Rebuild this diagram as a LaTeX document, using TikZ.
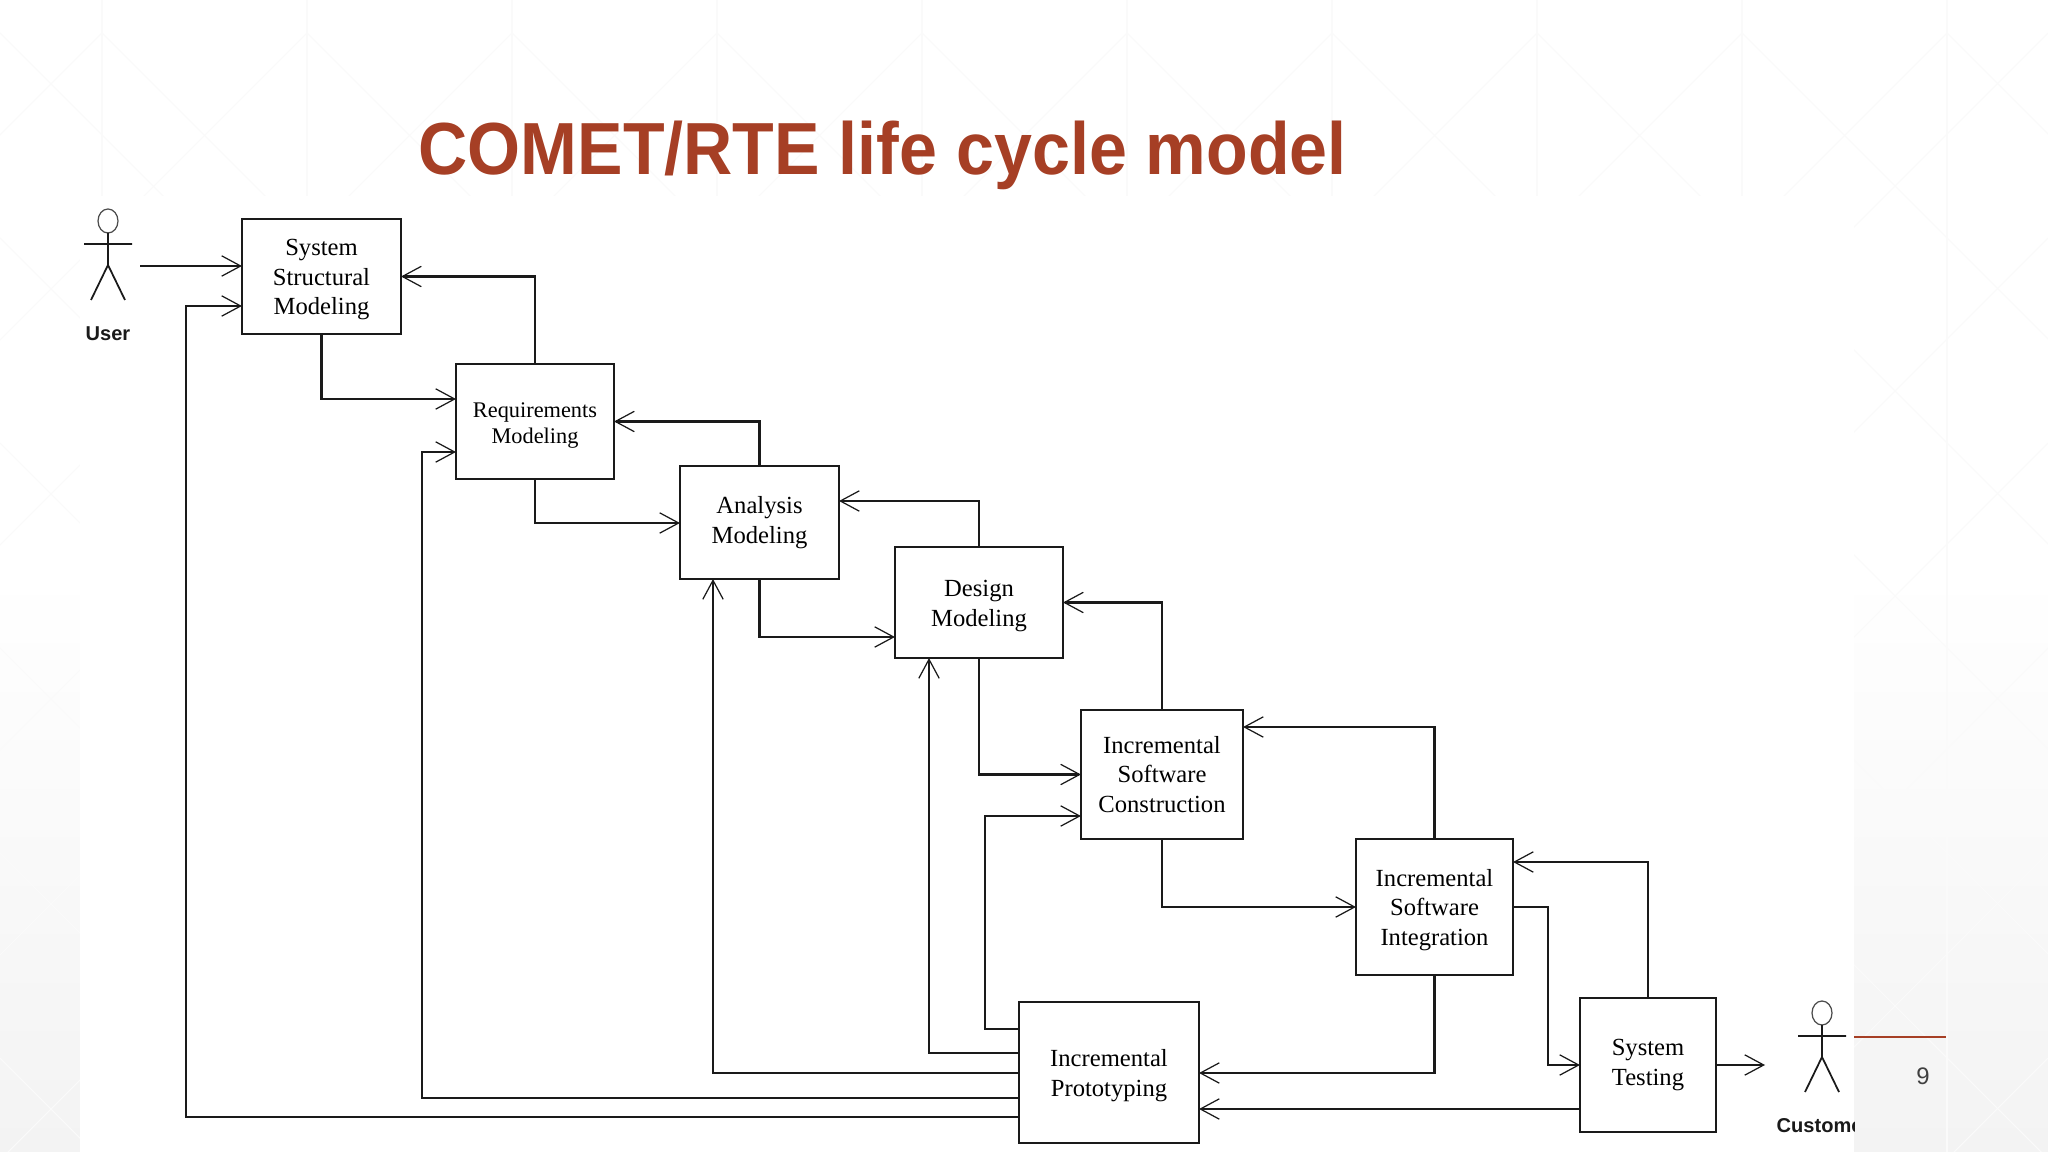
\documentclass[tikz,border=0pt]{standalone}
\usepackage{fontspec}
\setmainfont{Liberation Serif}
\newfontfamily\labelfont{Liberation Sans}
\usetikzlibrary{arrows.meta}
\definecolor{titlered}{HTML}{A63F25}
\definecolor{slidegrey}{HTML}{F3F3F3}
\definecolor{latticegrey}{HTML}{FAFAFA}
\definecolor{inkblack}{HTML}{1A1A1A}
\newcommand{\dropline}{\rule{0pt}{6.6pt}}
\tikzset{
  stage/.style={draw=inkblack,line width=0.62pt,fill=white,inner sep=0pt,outer sep=0pt,
    align=center,font=\fontsize{7}{8.4}\selectfont},
  flow/.style={->,draw=inkblack,line width=0.62pt},
  actorname/.style={font=\fontsize{5.7}{6.8}\labelfont\bfseries,text=inkblack,inner sep=0pt},
  actor/.pic={
    \draw[line width=0.35pt,draw=black!70] (0,0) ellipse (10 and 12);
    \draw[line width=0.5pt,draw=inkblack] (-24,23) -- (24,23) (0,12) -- (0,44)
      (-17,79) -- (0,44) -- (17,79);
  }
}
\begin{document}
\begin{tikzpicture}[x=0.01cm,y=-0.01cm,>={Straight Barb[length=5.4pt,width=5.8pt,line width=0.35pt]}]
  \useasboundingbox (0,0) rectangle (2048,1152);

  %--- Slide background ---
  \fill[white] (0,0) rectangle (2048,570);
  \shade[top color=white,bottom color=slidegrey] (0,570) rectangle (2048,1152);
  \begin{scope}
    \clip (0,0) rectangle (2048,1152);
    \foreach \gx in {102,307,...,1947} {
      \draw[latticegrey,line width=0.3pt] (\gx,0) -- (\gx,1152);
      \draw[latticegrey,line width=0.3pt] (\gx,33) -- ++(1200,1200);
      \draw[latticegrey,line width=0.3pt] (\gx,33) -- ++(-1200,1200);
    }
    \foreach \gy in {33,238,...,1058} {
      \draw[latticegrey,line width=0.3pt] (0,\gy) -- ++(1200,1200);
      \draw[latticegrey,line width=0.3pt] (2048,\gy) -- ++(-1200,1200);
    }
  \end{scope}
  \fill[white] (80,196) rectangle (1854,1152);

  %--- Title and page furniture ---
  \node[anchor=base west,inner sep=0pt,text=titlered,font=\fontsize{21}{25}\labelfont\bfseries,
    xscale=0.923,transform shape]
    (title) at (418,175) {COMET/RTE life cycle model};
  \draw[titlered,line width=0.6pt] (1854,1037) -- (1946,1037);
  \node[font=\fontsize{6.8}{8}\labelfont,text=black!75,inner sep=0pt] (pageno) at (1923,1076) {9};

  %--- Actors ---
  \pic at (108,221) {actor};
  \node[actorname] (user) at (108,334) {User};
  \pic at (1822,1013) {actor};
  \begin{scope}
    \clip (80,196) rectangle (1854,1152);
    \node[actorname,anchor=base west] (customer) at (1776,1132) {Customer};
  \end{scope}
  \coordinate (userout) at (140,266);
  \coordinate (custin) at (1765,1065);

  %--- Life cycle stages ---
  \node[stage,minimum width=1.59cm,minimum height=1.15cm] (sys) at (321.5,276.5)
    {\dropline System\\Structural\\Modeling};
  \node[stage,minimum width=1.58cm,minimum height=1.15cm,font=\fontsize{6.35}{7.4}\selectfont] (req) at (535,421.5)
    {\dropline Requirements\\Modeling};
  \node[stage,minimum width=1.59cm,minimum height=1.13cm] (ana) at (759.5,522.5)
    {Analysis\\Modeling};
  \node[stage,minimum width=1.68cm,minimum height=1.11cm] (des) at (979,602.5)
    {\dropline Design\\Modeling};
  \node[stage,minimum width=1.62cm,minimum height=1.29cm] (con) at (1162,774.5)
    {Incremental\\Software\\Construction};
  \node[stage,minimum width=1.57cm,minimum height=1.36cm] (int) at (1434.5,907)
    {\dropline Incremental\\Software\\Integration};
  \node[stage,minimum width=1.80cm,minimum height=1.41cm] (pro) at (1109,1072.5)
    {\dropline Incremental\\Prototyping};
  \node[stage,minimum width=1.36cm,minimum height=1.34cm] (tes) at (1648,1065)
    {System\\Testing};

  %--- Forward flow ---
  \draw[flow] (userout) -- (sys.west |- userout);
  \draw[flow] (sys.south) |- (req.west |- 0,399);
  \draw[flow] (req.south) |- (ana.west |- 0,523);
  \draw[flow] (ana.south) |- (des.west |- 0,637);
  \draw[flow] (des.south) |- (con.west);
  \draw[flow] (con.south) |- (int.west);
  \draw[flow] (int.east) -- ++(35,0) |- (tes.west);
  \draw[flow] (tes.east) -- (custin);

  %--- Backward flow ---
  \draw[flow] (req.north) |- (sys.east);
  \draw[flow] (ana.north) |- (req.east);
  \draw[flow] (des.north) |- (ana.east |- 0,501);
  \draw[flow] (con.north) |- (des.east);
  \draw[flow] (int.north) |- (con.east |- 0,727);
  \draw[flow] (tes.north) |- (int.east |- 0,862);

  %--- Into prototyping ---
  \draw[flow] (int.south) |- (pro.east |- 0,1073);
  \draw[flow] (tes.west |- 0,1109) -- (pro.east |- 0,1109);

  %--- Out of prototyping ---
  \draw[flow] (pro.west |- 0,1029) -- (985,1029) |- (con.west |- 0,816);
  \draw[flow] (pro.west |- 0,1053) -| (des.south -| 929,0);
  \draw[flow] (pro.west |- 0,1073) -| (ana.south -| 713,0);
  \draw[flow] (pro.west |- 0,1098) -- (422,1098) |- (req.west |- 0,452);
  \draw[flow] (pro.west |- 0,1117) -- (186,1117) |- (sys.west |- 0,306);

\end{tikzpicture}
\end{document}
